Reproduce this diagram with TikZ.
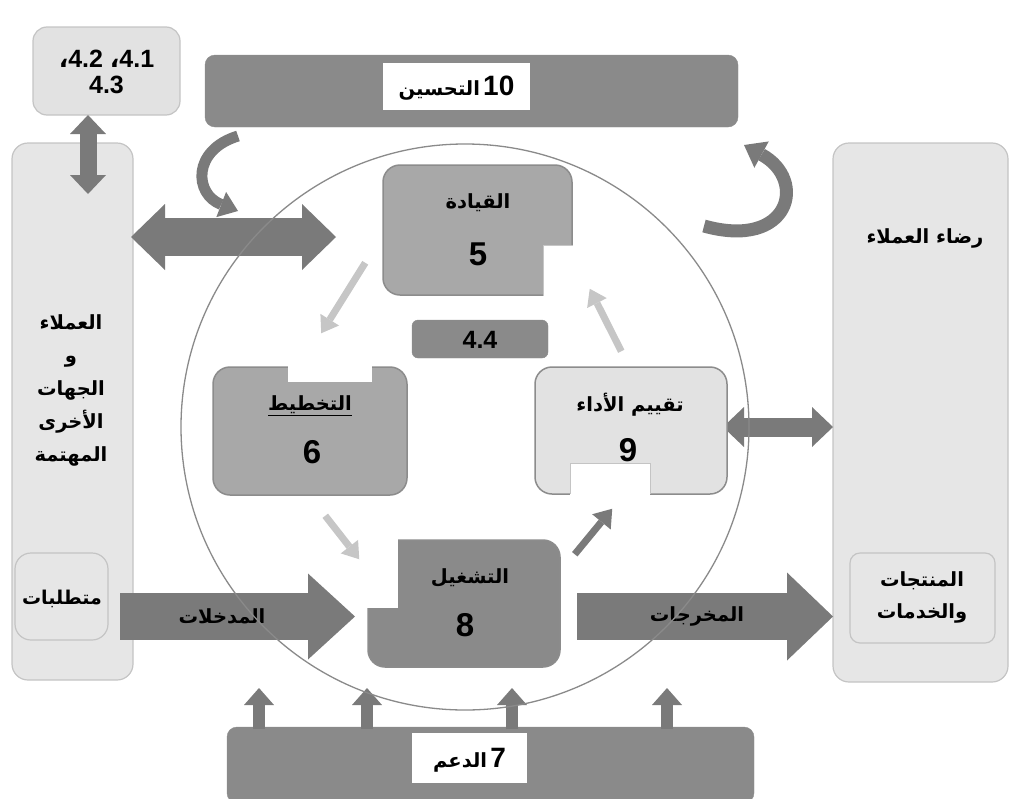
\documentclass[tikz,border=0pt]{standalone}
\usepackage{fontspec}
\setmainfont{Liberation Sans}
\newfontfamily\arb[Script=Arabic]{DejaVu Sans}
\TeXXeTstate=1
\usetikzlibrary{arrows.meta}

% Arabic text, set right to left
\newcommand{\artxt}[1]{{\arb\bfseries\beginR #1\endR}}

\definecolor{darkfill}{RGB}{138,138,138}
\definecolor{arrowfill}{RGB}{122,122,122}
\definecolor{midfill}{RGB}{168,168,168}
\definecolor{lightfill}{RGB}{226,226,226}
\definecolor{palefill}{RGB}{230,230,230}
\definecolor{softedge}{RGB}{196,196,196}
\definecolor{hardedge}{RGB}{140,140,140}
\definecolor{cyclefill}{RGB}{198,198,198}

\tikzset{
  panel/.style={draw=softedge, fill=palefill, line width=1.2pt, rounded corners=16pt, inner sep=0pt},
  bar/.style={fill=darkfill, draw=hardedge, rounded corners=10pt, inner sep=0pt},
  label box/.style={fill=white, inner sep=0pt},
  stagebox/.style={line width=1.5pt, rounded corners=17pt, inner sep=0pt},
  notch/.style={fill=white},
  txt/.style={font=\fontsize{19.5}{22}\selectfont, inner sep=0pt},
  num/.style={font=\fontsize{33}{35}\selectfont\bfseries, inner sep=0pt},
  smallnum/.style={font=\fontsize{25}{30}\selectfont\bfseries, inner sep=0pt, align=center},
  cyc/.style={draw=cyclefill, line width=7pt, -{Triangle[width=22pt,length=16pt,line width=0pt]}},
  block/.style={draw=arrowfill},
}

\begin{document}
\begin{tikzpicture}[x=1pt, y=-1pt]
\useasboundingbox (0,0) rectangle (1011,798);

% side panels
\node[panel, minimum width=121pt, minimum height=537pt] (clients) at (72.5,411.5) {};
\node[panel, minimum width=175pt, minimum height=539pt] (satis) at (920.5,412.5) {};
\node[panel, minimum width=93pt, minimum height=87pt] (req) at (61.5,596.5) {};
\node[panel, minimum width=145pt, minimum height=90pt, rounded corners=10pt] (prod) at (922.5,598) {};
\node[panel, fill=lightfill, minimum width=147pt, minimum height=88pt, rounded corners=14pt] (ctx) at (106.5,71) {};

% panel texts
\node[txt, align=center, font=\fontsize{19.5}{33}\selectfont] (clientstxt) at (71,390)
  {\artxt{العملاء}\\ \artxt{و}\\ \artxt{الجهات}\\ \artxt{الأخرى}\\ \artxt{المهتمة}};
\node[txt, font=\fontsize{19}{22}\selectfont] (reqtxt) at (62,599) {\artxt{متطلبات}};
\node[txt] (satistxt) at (925,238) {\artxt{رضاء العملاء}};
\node[txt, align=center, font=\fontsize{19.5}{32}\selectfont] (prodtxt) at (922,597) {\artxt{المنتجات}\\ \artxt{والخدمات}};
\node[smallnum] (ctxtxt) at (106.5,72) {{\arb ،}4.2 {\arb ،}4.1\\[-4pt] 4.3};

% improvement and support bars
\node[bar, minimum width=533pt, minimum height=72pt] (impr) at (471.5,91) {};
\node[label box, minimum width=147pt, minimum height=47pt] (imprlbl) at (456.5,86.5) {};
\node[inner sep=0pt] (imprtxt) at (456.5,88) {\fontsize{19.5}{22}\selectfont\artxt{التحسين}\,\fontsize{28}{30}\selectfont\bfseries 10};
\node[bar, minimum width=527pt, minimum height=76pt] (supp) at (490.5,765) {};
\node[label box, minimum width=115pt, minimum height=50pt] (supplbl) at (469.5,758) {};
\node[inner sep=0pt] (supptxt) at (469.5,760) {\fontsize{19.5}{22}\selectfont\artxt{الدعم}\,\fontsize{28}{30}\selectfont\bfseries 7};

% input and output arrows
\coordinate (inA) at (120,616.5);
\coordinate (inB) at (355,616.5);
\coordinate (outA) at (577,616.5);
\coordinate (outB) at (833,616.5);
\draw[block, line width=47pt, -{Triangle[width=86pt,length=47pt,line width=0pt]}] (inA) -- (inB);
\draw[block, line width=47pt, -{Triangle[width=88pt,length=46pt,line width=0pt]}] (outA) -- (outB);
\node[txt] (intxt) at (222,616) {\artxt{المدخلات}};
\node[txt] (outtxt) at (697,616) {\artxt{المخرجات}};

% two-way arrows
\coordinate (lrA) at (131,237);
\coordinate (lrB) at (336,237);
\draw[block, line width=38pt, {Triangle[width=66pt,length=34pt,line width=0pt]}-{Triangle[width=66pt,length=34pt,line width=0pt]}] (lrA) -- (lrB);
\coordinate (udA) at (88,115);
\coordinate (udB) at (88,194);
\draw[block, line width=17pt, {Triangle[width=36pt,length=19pt,line width=0pt]}-{Triangle[width=36pt,length=19pt,line width=0pt]}] (udA) -- (udB);
\coordinate (evA) at (723,427);
\coordinate (evB) at (833,427);
\draw[block, line width=19pt, {Triangle[width=40pt,length=21pt,line width=0pt]}-{Triangle[width=40pt,length=21pt,line width=0pt]}] (evA) -- (evB);

% curved arrows below the improvement bar
\coordinate (clA) at (238,136);
\coordinate (clB) at (238,211);
\draw[block, line width=11pt, -{Triangle[width=27pt,length=18pt,line width=0pt]}] (clA) .. controls (192,150) and (194,194) .. (clB);
\coordinate (crA) at (704,226);
\coordinate (crB) at (744,145);
\draw[block, line width=13pt, -{Triangle[width=30pt,length=20pt,line width=0pt]}] (crA) .. controls (790,250) and (808,180) .. (crB);

% support arrows
\foreach \x [count=\i] in {259,367,512,667}{
  \coordinate (up\i a) at (\x,729);
  \coordinate (up\i b) at (\x,688);
  \draw[block, line width=12pt, -{Triangle[width=30pt,length=17pt,line width=0pt]}] (up\i a) -- (up\i b);
}

% the cycle
\draw[draw=darkfill, line width=1.3pt] (465,427) ellipse [x radius=284pt, y radius=283pt];

% leadership
\node[stagebox, fill=midfill, draw=hardedge, minimum width=189pt, minimum height=130pt] (lead) at (477.5,230) {};
\fill[notch] (543,245) rectangle (574,297);
\draw[draw=cyclefill, line width=0.8pt] (573,245) -- (543,245) -- (543,296);
\node[txt] (leadtxt) at (478,203) {\artxt{القيادة}};
\node[num] (leadnum) at (478,254) {5};

% context of the organization
\node[bar, rounded corners=6pt, minimum width=136pt, minimum height=38pt] (ctx44) at (480,339) {};
\node[font=\fontsize{25}{28}\selectfont\bfseries, inner sep=0pt] (ctx44txt) at (480,340) {4.4};

% planning
\node[stagebox, fill=midfill, draw=hardedge, minimum width=194pt, minimum height=128pt] (plan) at (310,431) {};
\fill[notch] (288,365) rectangle (372,382);
\node[txt] (plantxt) at (310,406) {\underline{\artxt{التخطيط}}};
\node[num] (plannum) at (312,452) {6};

% performance evaluation
\node[stagebox, fill=lightfill, draw=hardedge, minimum width=192pt, minimum height=127pt] (eval) at (631,430.5) {};
\fill[notch] (570,463) rectangle (650,496);
\draw[draw=softedge, line width=0.8pt] (570,494) -- (570,463) -- (650,463) -- (650,494);
\node[txt] (evaltxt) at (630,405) {\artxt{تقييم الأداء}};
\node[num] (evalnum) at (628,450) {9};

% operation
\node[stagebox, fill=darkfill, draw=hardedge, minimum width=192pt, minimum height=127pt] (oper) at (464,603.5) {};
\fill[notch] (365,537) rectangle (398,608);
\node[txt] (opertxt) at (470,578) {\artxt{التشغيل}};
\node[num] (opernum) at (465,625) {8};

% cycle arrows between the stages
\draw[cyc] ([shift={(-17,-33)}]lead.south west) -- ([shift={(109,-33)}]plan.north west);
\draw[cyc] ([shift={(113,20)}]plan.south west) -- ([shift={(-8,20)}]oper.north west);
\draw[cyc, draw=arrowfill, -{Triangle[width=24pt,length=17pt,line width=0pt]}] ([shift={(14,15)}]oper.north east) -- ([shift={(78,14)}]eval.south west);
\draw[cyc] ([shift={(87,-15)}]eval.north west) -- ([shift={(17,-7)}]lead.south east);
\end{tikzpicture}
\end{document}
